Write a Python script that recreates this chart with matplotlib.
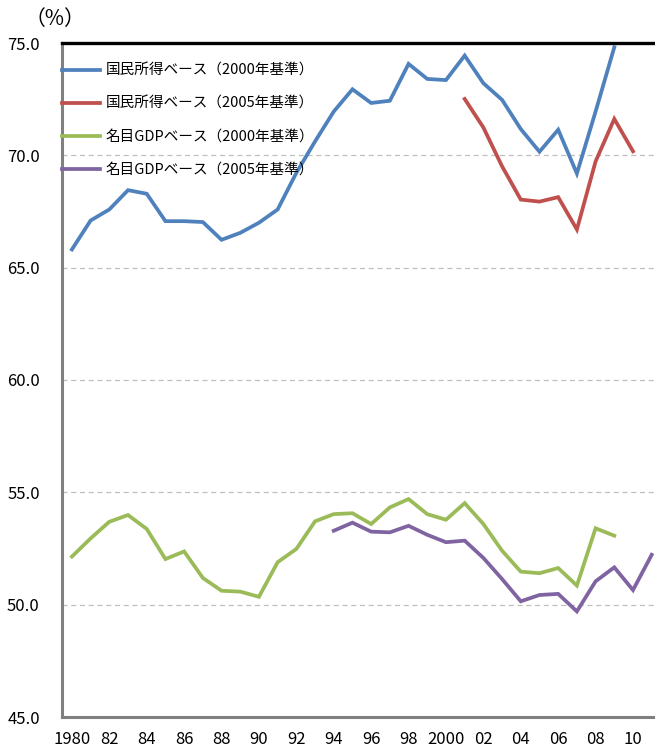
import numpy as np
import matplotlib
matplotlib.use("Agg")
from matplotlib import pyplot as plt

plt.rcParams["font.family"] = ["Noto Sans CJK JP", "DejaVu Sans"]

# --- data ---
years_a = list(range(1980, 2010))  # 1980..2009
ni_2000 = [65.81, 67.10, 67.59, 68.45, 68.29, 67.07, 67.07, 67.03, 66.24, 66.55,
           67.00, 67.59, 69.22, 70.62, 71.95, 72.94, 72.33, 72.43, 74.07, 73.40,
           73.35, 74.44, 73.21, 72.47, 71.17, 70.16, 71.14, 69.19, 71.95, 74.81]
gdp_2000 = [52.14, 52.95, 53.69, 53.99, 53.37, 52.03, 52.37, 51.19, 50.62, 50.58,
            50.35, 51.89, 52.48, 53.71, 54.03, 54.07, 53.59, 54.33, 54.70, 54.03,
            53.78, 54.52, 53.59, 52.40, 51.47, 51.40, 51.63, 50.85, 53.40, 53.07]

years_ni05 = list(range(2001, 2011))
ni_2005 = [72.51, 71.24, 69.51, 68.03, 67.94, 68.14, 66.70, 69.73, 71.62, 70.18]

years_gdp05 = list(range(1994, 2012))
gdp_2005 = [53.29, 53.65, 53.25, 53.22, 53.51, 53.11, 52.78, 52.85, 52.08, 51.14,
            50.15, 50.43, 50.48, 49.70, 51.04, 51.66, 50.65, 52.22]

labels = ["国民所得ベース（2000年基準）", "国民所得ベース（2005年基準）",
          "名目GDPベース（2000年基準）", "名目GDPベース（2005年基準）"]
colors = ["#4F81BD", "#C0504D", "#9BBB59", "#8064A2"]

tick_years = list(range(1980, 2011, 2))
tick_labels = ["1980", "82", "84", "86", "88", "90", "92", "94", "96", "98",
               "2000", "02", "04", "06", "08", "10"]

W, H = 655, 752
fig = plt.figure(figsize=(W / 100, H / 100), dpi=100)
ax = fig.add_axes([62 / W, (H - 717) / H, (W - 62) / W, (717 - 43) / H])

series = [(years_a, ni_2000), (years_ni05, ni_2005), (years_a, gdp_2000), (years_gdp05, gdp_2005)]
for (xs, ys), c, lab in zip(series, colors, labels):
    ax.plot(xs, ys, color=c, linewidth=2.7, label=lab, solid_joinstyle="miter")

ax.set_xlim(1979.47, 1980 + (655 - 72) / 18.7)
ax.set_ylim(45, 75)
yt = np.arange(45, 75.1, 5)
ax.set_yticks(yt)
ax.set_yticklabels([f"{v:.1f}" for v in yt], fontsize=12)
ax.set_xticks(tick_years)
ax.set_xticklabels(tick_labels, fontsize=12)
ax.tick_params(axis="both", length=0)
ax.tick_params(axis="y", pad=16)
ax.tick_params(axis="x", pad=10)

for v in [50, 55, 60, 65, 70]:
    ax.axhline(v, color="#bfbfbf", linewidth=0.9, linestyle=(0, (4, 3)), zorder=0)

ax.spines["right"].set_visible(False)
ax.spines["top"].set_color("black")
ax.spines["top"].set_linewidth(2.4)
for s in ["left", "bottom"]:
    ax.spines[s].set_color("#808080")
    ax.spines[s].set_linewidth(2.2)

fig.text(25 / W, 1 - 19 / H, "（%）", fontsize=15, va="center", ha="left")

ax.legend(loc="upper left", bbox_to_anchor=(0, 1 - 21 / 674), frameon=False, fontsize=10.5,
          handlelength=2.6, handletextpad=0.4, labelspacing=1.3,
          borderaxespad=0.0, borderpad=0.0)

fig.savefig("out.png", dpi=100)
